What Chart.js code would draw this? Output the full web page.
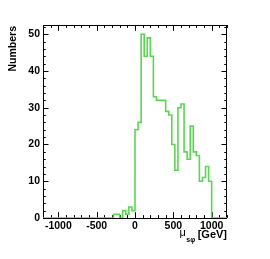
<!DOCTYPE html>
<html>
<head>
<meta charset="utf-8">
<script src="https://cdn.jsdelivr.net/npm/chart.js@4"></script>
<style>
  body { margin: 0; background: #ffffff; }
  canvas { display: block; }
</style>
</head>
<body>
<canvas id="myChart" width="270" height="259"></canvas>
<script>
const ctx = document.getElementById("myChart");

// histogram: 40 GeV bins from -1200 to 1200
const binLow = -1200;
const binWidth = 40;
const counts = [
  // -1200 .. -840
  0, 0, 0, 0, 0, 0, 0, 0, 0, 0,
  // -800 .. -440
  0, 0, 0, 0, 0, 0, 0, 0, 0, 0,
  // -400 .. -40
  0, 0, 0, 1, 1, 0, 2, 1, 3, 2,
  // 0 .. 360
  24, 26, 50, 44, 49, 44, 33, 32, 32, 32,
  // 400 .. 760
  29, 28, 20, 13, 30, 31, 18, 16, 25, 18,
  // 800 .. 1160
  17, 10, 11, 14, 10, 0, 0, 0, 0, 0,
];
const xTicks = [-1000, -500, 0, 500, 1000];
const yTicks = [0, 10, 20, 30, 40, 50];
const xRange = [-1200, 1200];
const yRange = [0, 52.5];

// points at the left edge of each bin, plus the closing edge
const points = counts.map((c, i) => ({ x: binLow + i * binWidth, y: c }));
points.push({ x: binLow + counts.length * binWidth, y: 0 });

const font = "'Liberation Sans', Arial, Helvetica, sans-serif";

const rootFrame = {
  id: "rootFrame",
  beforeDatasetsDraw(chart) {
    const c = chart.ctx;
    const a = chart.chartArea;
    const xs = chart.scales.x;
    const ys = chart.scales.y;
    c.save();
    c.strokeStyle = "#000000";
    c.lineWidth = 1;
    c.strokeRect(Math.round(a.left) + 0.5, Math.round(a.top) + 0.5,
      Math.round(a.right - a.left) - 1, Math.round(a.bottom - a.top));
    c.beginPath();
    // x ticks, inside, bottom and top
    for (let v = xRange[0]; v <= xRange[1]; v += 100) {
      const px = Math.round(xs.getPixelForValue(v)) + 0.5;
      const len = v % 500 === 0 ? 5.8 : 2.9;
      c.moveTo(px, a.bottom);
      c.lineTo(px, a.bottom - len);
      c.moveTo(px, a.top);
      c.lineTo(px, a.top + len);
    }
    // y ticks, inside, left and right
    for (let v = 0; v <= yRange[1]; v += 2) {
      const py = Math.round(ys.getPixelForValue(v)) + 0.5;
      const len = v % 10 === 0 ? 5.5 : 2.75;
      c.moveTo(a.left, py);
      c.lineTo(a.left + len, py);
      c.moveTo(a.right, py);
      c.lineTo(a.right - len, py);
    }
    c.stroke();
    c.restore();
  },
  afterDraw(chart) {
    const c = chart.ctx;
    const a = chart.chartArea;
    c.save();
    c.fillStyle = "#000000";
    // y title, aligned to the top of the axis
    c.translate(13, a.top + 1);
    c.rotate(-Math.PI / 2);
    c.font = "bold 10.5px " + font;
    c.textAlign = "right";
    c.textBaseline = "middle";
    c.fillText("Numbers", 0, 0);
    c.restore();

    // x title, aligned to the right end of the axis
    c.save();
    c.fillStyle = "#000000";
    c.textAlign = "right";
    c.textBaseline = "alphabetic";
    c.font = "bold 11px " + font;
    let x = a.right;
    c.fillText("[GeV]", x, 237.5);
    x -= c.measureText("[GeV]").width + 2.5;
    c.font = "bold 7px " + font;
    c.fillText("s\u03c6", x, 242);
    x -= c.measureText("s\u03c6").width + 0.5;
    c.font = "11px " + font;
    c.fillText("\u03bc", x, 236);
    c.restore();
  },
};

const myChart = new Chart(ctx, {
  type: "line",
  data: {
    datasets: [
      {
        data: points,
        borderColor: "rgb(90, 215, 80)",
        borderWidth: 1.6,
        stepped: true,
        pointRadius: 0,
        fill: false,
      },
    ],
  },
  options: {
    responsive: false,
    animation: false,
    devicePixelRatio: 1,
    layout: { padding: { left: 0, top: 25, right: 43, bottom: 0 } },
    plugins: { legend: { display: false }, tooltip: { enabled: false } },
    scales: {
      x: {
        type: "linear",
        min: xRange[0],
        max: xRange[1],
        grid: { display: false, drawTicks: false },
        border: { display: false },
        afterBuildTicks: (s) => { s.ticks = xTicks.map((v) => ({ value: v })); },
        afterFit: (s) => { s.height = 41; },
        ticks: {
          padding: 2,
          color: "#000000",
          font: { family: font, size: 10.5, weight: "bold" },
          maxRotation: 0,
          autoSkip: false,
          callback: (v) => String(v),
        },
      },
      y: {
        min: yRange[0],
        max: yRange[1],
        grid: { display: false, drawTicks: false },
        border: { display: false },
        afterBuildTicks: (s) => { s.ticks = yTicks.map((v) => ({ value: v })); },
        afterFit: (s) => { s.width = 43; },
        ticks: {
          padding: 3,
          color: "#000000",
          font: { family: font, size: 10.5, weight: "bold" },
          callback: (v) => String(v),
        },
      },
    },
  },
  plugins: [rootFrame],
});
</script>
</body>
</html>
